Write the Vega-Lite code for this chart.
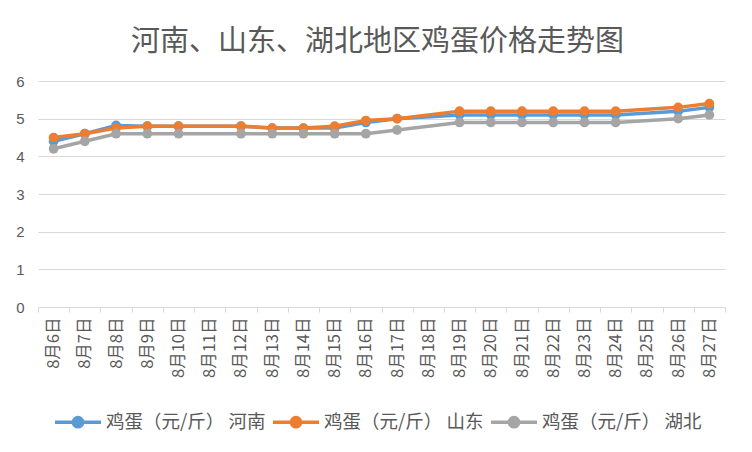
{
  "$schema": "https://vega.github.io/schema/vega-lite/v6.json",
  "width": 687,
  "height": 226,
  "autosize": {"type": "none"},
  "padding": {"left": 38, "top": 81, "right": 27, "bottom": 145},
  "background": "white",
  "title": {
    "text": "河南、山东、湖北地区鸡蛋价格走势图",
    "font": "Noto Sans CJK SC",
    "fontSize": 29,
    "fontWeight": "normal",
    "color": "#595959",
    "anchor": "middle",
    "dx": -4,
    "offset": 17
  },
  "config": {"view": {"stroke": null}},
  "data": {
    "values": [
      {"date": "8月6日", "series": "鸡蛋（元/斤） 河南", "price": 4.4},
      {"date": "8月7日", "series": "鸡蛋（元/斤） 河南", "price": 4.6},
      {"date": "8月8日", "series": "鸡蛋（元/斤） 河南", "price": 4.82},
      {"date": "8月9日", "series": "鸡蛋（元/斤） 河南", "price": 4.8},
      {"date": "8月10日", "series": "鸡蛋（元/斤） 河南", "price": 4.8},
      {"date": "8月12日", "series": "鸡蛋（元/斤） 河南", "price": 4.8},
      {"date": "8月13日", "series": "鸡蛋（元/斤） 河南", "price": 4.75},
      {"date": "8月14日", "series": "鸡蛋（元/斤） 河南", "price": 4.75},
      {"date": "8月15日", "series": "鸡蛋（元/斤） 河南", "price": 4.75},
      {"date": "8月16日", "series": "鸡蛋（元/斤） 河南", "price": 4.9},
      {"date": "8月17日", "series": "鸡蛋（元/斤） 河南", "price": 5.0},
      {"date": "8月19日", "series": "鸡蛋（元/斤） 河南", "price": 5.1},
      {"date": "8月20日", "series": "鸡蛋（元/斤） 河南", "price": 5.1},
      {"date": "8月21日", "series": "鸡蛋（元/斤） 河南", "price": 5.1},
      {"date": "8月22日", "series": "鸡蛋（元/斤） 河南", "price": 5.1},
      {"date": "8月23日", "series": "鸡蛋（元/斤） 河南", "price": 5.1},
      {"date": "8月24日", "series": "鸡蛋（元/斤） 河南", "price": 5.1},
      {"date": "8月26日", "series": "鸡蛋（元/斤） 河南", "price": 5.2},
      {"date": "8月27日", "series": "鸡蛋（元/斤） 河南", "price": 5.3},
      {"date": "8月6日", "series": "鸡蛋（元/斤） 山东", "price": 4.5},
      {"date": "8月7日", "series": "鸡蛋（元/斤） 山东", "price": 4.6},
      {"date": "8月8日", "series": "鸡蛋（元/斤） 山东", "price": 4.75},
      {"date": "8月9日", "series": "鸡蛋（元/斤） 山东", "price": 4.8},
      {"date": "8月10日", "series": "鸡蛋（元/斤） 山东", "price": 4.8},
      {"date": "8月12日", "series": "鸡蛋（元/斤） 山东", "price": 4.8},
      {"date": "8月13日", "series": "鸡蛋（元/斤） 山东", "price": 4.75},
      {"date": "8月14日", "series": "鸡蛋（元/斤） 山东", "price": 4.75},
      {"date": "8月15日", "series": "鸡蛋（元/斤） 山东", "price": 4.8},
      {"date": "8月16日", "series": "鸡蛋（元/斤） 山东", "price": 4.95},
      {"date": "8月17日", "series": "鸡蛋（元/斤） 山东", "price": 5.0},
      {"date": "8月19日", "series": "鸡蛋（元/斤） 山东", "price": 5.2},
      {"date": "8月20日", "series": "鸡蛋（元/斤） 山东", "price": 5.2},
      {"date": "8月21日", "series": "鸡蛋（元/斤） 山东", "price": 5.2},
      {"date": "8月22日", "series": "鸡蛋（元/斤） 山东", "price": 5.2},
      {"date": "8月23日", "series": "鸡蛋（元/斤） 山东", "price": 5.2},
      {"date": "8月24日", "series": "鸡蛋（元/斤） 山东", "price": 5.2},
      {"date": "8月26日", "series": "鸡蛋（元/斤） 山东", "price": 5.3},
      {"date": "8月27日", "series": "鸡蛋（元/斤） 山东", "price": 5.4},
      {"date": "8月6日", "series": "鸡蛋（元/斤） 湖北", "price": 4.2},
      {"date": "8月7日", "series": "鸡蛋（元/斤） 湖北", "price": 4.4},
      {"date": "8月8日", "series": "鸡蛋（元/斤） 湖北", "price": 4.6},
      {"date": "8月9日", "series": "鸡蛋（元/斤） 湖北", "price": 4.6},
      {"date": "8月10日", "series": "鸡蛋（元/斤） 湖北", "price": 4.6},
      {"date": "8月12日", "series": "鸡蛋（元/斤） 湖北", "price": 4.6},
      {"date": "8月13日", "series": "鸡蛋（元/斤） 湖北", "price": 4.6},
      {"date": "8月14日", "series": "鸡蛋（元/斤） 湖北", "price": 4.6},
      {"date": "8月15日", "series": "鸡蛋（元/斤） 湖北", "price": 4.6},
      {"date": "8月16日", "series": "鸡蛋（元/斤） 湖北", "price": 4.6},
      {"date": "8月17日", "series": "鸡蛋（元/斤） 湖北", "price": 4.7},
      {"date": "8月19日", "series": "鸡蛋（元/斤） 湖北", "price": 4.9},
      {"date": "8月20日", "series": "鸡蛋（元/斤） 湖北", "price": 4.9},
      {"date": "8月21日", "series": "鸡蛋（元/斤） 湖北", "price": 4.9},
      {"date": "8月22日", "series": "鸡蛋（元/斤） 湖北", "price": 4.9},
      {"date": "8月23日", "series": "鸡蛋（元/斤） 湖北", "price": 4.9},
      {"date": "8月24日", "series": "鸡蛋（元/斤） 湖北", "price": 4.9},
      {"date": "8月26日", "series": "鸡蛋（元/斤） 湖北", "price": 5.0},
      {"date": "8月27日", "series": "鸡蛋（元/斤） 湖北", "price": 5.1}
    ]
  },
  "mark": {
    "type": "line",
    "strokeWidth": 3.5,
    "point": {"filled": true, "size": 95, "opacity": 1}
  },
  "encoding": {
    "x": {
      "field": "date",
      "type": "ordinal",
      "sort": null,
      "bandPosition": 0.5,
      "scale": {
        "type": "band",
        "paddingInner": 0,
        "paddingOuter": 0,
        "domain": ["8月6日","8月7日","8月8日","8月9日","8月10日","8月11日","8月12日","8月13日","8月14日","8月15日","8月16日","8月17日","8月18日","8月19日","8月20日","8月21日","8月22日","8月23日","8月24日","8月25日","8月26日","8月27日"]
      },
      "axis": {
        "title": null,
        "labelAngle": -90,
        "labelFont": "Noto Sans CJK SC",
        "labelFontSize": 16.5,
        "labelColor": "#595959",
        "labelPadding": 5,
        "domainColor": "#D9D9D9",
        "domainWidth": 1,
        "tickColor": "#D9D9D9",
        "tickSize": 5,
        "tickBand": "extent",
        "grid": false
      }
    },
    "y": {
      "field": "price",
      "type": "quantitative",
      "scale": {"domain": [0, 6], "nice": false},
      "axis": {
        "title": null,
        "values": [0, 1, 2, 3, 4, 5, 6],
        "labelFont": "Liberation Sans",
        "labelFontSize": 15,
        "labelColor": "#595959",
        "labelPadding": 14,
        "ticks": false,
        "domain": false,
        "gridColor": "#D9D9D9",
        "gridWidth": 1
      }
    },
    "color": {
      "field": "series",
      "type": "nominal",
      "sort": ["鸡蛋（元/斤） 河南", "鸡蛋（元/斤） 山东", "鸡蛋（元/斤） 湖北"],
      "scale": {"range": ["#5B9BD5", "#ED7D31", "#A5A5A5"]},
      "legend": {
        "title": null,
        "orient": "none",
        "legendX": 15,
        "legendY": 316,
        "direction": "horizontal",
        "labelFont": "Noto Sans CJK SC",
        "labelFontSize": 18.5,
        "labelColor": "#595959",
        "columnPadding": 0,
        "symbolType": "M-1,0L1,0M0,-0.2A0.2,0.2,0,1,1,0,0.2A0.2,0.2,0,1,1,0,-0.2",
        "symbolSize": 2116,
        "symbolStrokeWidth": 3.5,
        "labelOffset": 3,
        "encode": {
          "symbols": {
            "update": {
              "fill": {"scale": "color", "field": "value"},
              "fillOpacity": {"value": 1}
            }
          }
        }
      }
    }
  }
}
